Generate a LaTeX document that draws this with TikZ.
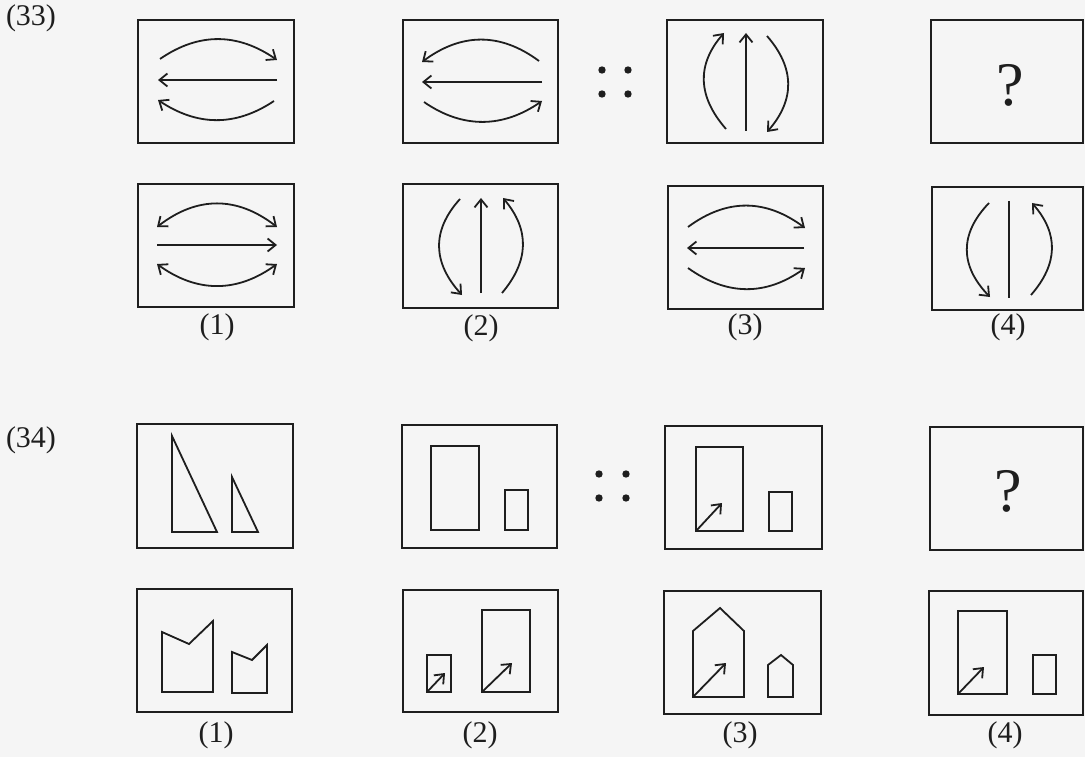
\documentclass[tikz,border=0pt]{standalone}
\usepackage{fontspec}
\setmainfont{Liberation Serif}
\usetikzlibrary{arrows.meta}
\definecolor{ink}{RGB}{30,30,30}
\definecolor{paper}{RGB}{245,245,245}
\begin{document}
\begin{tikzpicture}[x=1pt,y=-1pt,
  panel/.style={draw=ink,line width=2pt},
  fig/.style={draw=ink,line width=1.8pt,line join=miter},
  arr/.style={fig,-{Straight Barb[length=8pt,width=13pt,line width=1.8pt]}},
  darr/.style={fig,{Straight Barb[length=8pt,width=13pt,line width=1.8pt]}-{Straight Barb[length=8pt,width=13pt,line width=1.8pt]}},
  lab/.style={text=ink,font=\fontsize{30}{32}\selectfont,inner sep=0pt},
  qm/.style={text=ink,font=\fontsize{62}{66}\selectfont,inner sep=0pt},
  dot/.style={fill=ink,draw=none}]
\fill[paper] (0,0) rectangle (1085,757);
\useasboundingbox (0,0) rectangle (1085,757);

% ---------- (33) ----------
\node[lab] (q33) at (31,18) {(33)};
% row 1 panels
\draw[panel] (138,20) rectangle (294,143);
\draw[panel] (403,20) rectangle (558,143);
\draw[panel] (667,20) rectangle (823,143);
\draw[panel] (931,20) rectangle (1083,143);
% A1
\draw[arr] (160,59) .. controls (199,32) and (238,33) .. (277,60);
\draw[arr] (277,80) -- (158,80);
\draw[arr] (274,101) .. controls (235,127) and (197,126) .. (158,100);
% A2
\draw[arr] (539,61) .. controls (500,32) and (461,33) .. (422,62);
\draw[arr] (542,82) -- (422,82);
\draw[arr] (424,102) .. controls (463,129) and (503,128) .. (542,101);
% dots
\fill[dot] (602,70) circle (3.7);
\fill[dot] (628,70) circle (3.7);
\fill[dot] (602,94) circle (3.7);
\fill[dot] (628,94) circle (3.7);
% A3
\draw[arr] (746,131) -- (746,33);
\draw[arr] (726,129) .. controls (698,97) and (696,65) .. (724,33);
\draw[arr] (767,36) .. controls (795,68) and (795,100) .. (767,132);
% A4
\node[qm] (qa) at (1010,85) {?};

% row 2 panels
\draw[panel] (138,184) rectangle (294,307);
\draw[panel] (403,184) rectangle (558,308);
\draw[panel] (668,186) rectangle (823,309);
\draw[panel] (932,187) rectangle (1083,310);
% B1
\draw[darr] (157,227) .. controls (197,196) and (237,196) .. (277,227);
\draw[arr] (157,245) -- (277,245);
\draw[darr] (157,264) .. controls (197,293) and (237,293) .. (277,264);
% B2
\draw[arr] (460,199) .. controls (431,231) and (433,263) .. (462,295);
\draw[arr] (481,293) -- (481,198);
\draw[arr] (502,293) .. controls (529,261) and (530,230) .. (503,198);
% B3
\draw[arr] (688,227) .. controls (727,198) and (766,199) .. (805,228);
\draw[arr] (804,248) -- (687,248);
\draw[arr] (688,268) .. controls (727,296) and (766,296) .. (805,268);
% B4
\draw[arr] (989,203) .. controls (959,234) and (960,266) .. (990,297);
\draw[fig] (1009,201) -- (1009,298);
\draw[arr] (1031,295) .. controls (1058,264) and (1059,234) .. (1032,203);
% labels
\node[lab] (l1a) at (217,327) {(1)};
\node[lab] (l2a) at (481,328) {(2)};
\node[lab] (l3a) at (745,327) {(3)};
\node[lab] (l4a) at (1008,327) {(4)};

% ---------- (34) ----------
\node[lab] (q34) at (31,440) {(34)};
% row 3 panels
\draw[panel] (137,424) rectangle (293,548);
\draw[panel] (402,425) rectangle (557,548);
\draw[panel] (665,426) rectangle (822,549);
\draw[panel] (930,427) rectangle (1083,550);
% C1
\draw[fig] (172,436) -- (217,532) -- (172,532) -- cycle;
\draw[fig] (232,477) -- (258,532) -- (232,532) -- cycle;
% C2
\draw[fig] (431,446) rectangle (479,530);
\draw[fig] (505,490) rectangle (528,530);
% dots
\fill[dot] (599,474) circle (3.7);
\fill[dot] (626,474) circle (3.7);
\fill[dot] (599,498) circle (3.7);
\fill[dot] (626,498) circle (3.7);
% C3
\draw[fig] (696,447) rectangle (743,531);
\draw[arr] (696,531) -- (722,503);
\draw[fig] (769,492) rectangle (792,531);
% C4
\node[qm] (qb) at (1008,491) {?};

% row 4 panels
\draw[panel] (137,589) rectangle (292,712);
\draw[panel] (403,590) rectangle (558,712);
\draw[panel] (664,591) rectangle (821,714);
\draw[panel] (929,591) rectangle (1083,715);
% D1
\draw[fig] (162,632) -- (189,644) -- (213,621) -- (213,692) -- (162,692) -- cycle;
\draw[fig] (232,652) -- (252,660) -- (267,645) -- (267,693) -- (232,693) -- cycle;
% D2
\draw[fig] (427,655) rectangle (451,692);
\draw[arr] (427,692) -- (445,673);
\draw[fig] (482,610) rectangle (530,692);
\draw[arr] (482,692) -- (512,663);
% D3
\draw[fig] (693,697) -- (693,631) -- (720,608) -- (744,631) -- (744,697) -- cycle;
\draw[arr] (693,697) -- (726,663);
\draw[fig] (768,697) -- (768,665) -- (781,655) -- (793,665) -- (793,697) -- cycle;
% D4
\draw[fig] (958,611) rectangle (1007,694);
\draw[arr] (958,694) -- (984,667);
\draw[fig] (1033,655) rectangle (1056,694);
% labels
\node[lab] (l1b) at (216,735) {(1)};
\node[lab] (l2b) at (480,735) {(2)};
\node[lab] (l3b) at (740,735) {(3)};
\node[lab] (l4b) at (1005,735) {(4)};
\end{tikzpicture}
\end{document}
